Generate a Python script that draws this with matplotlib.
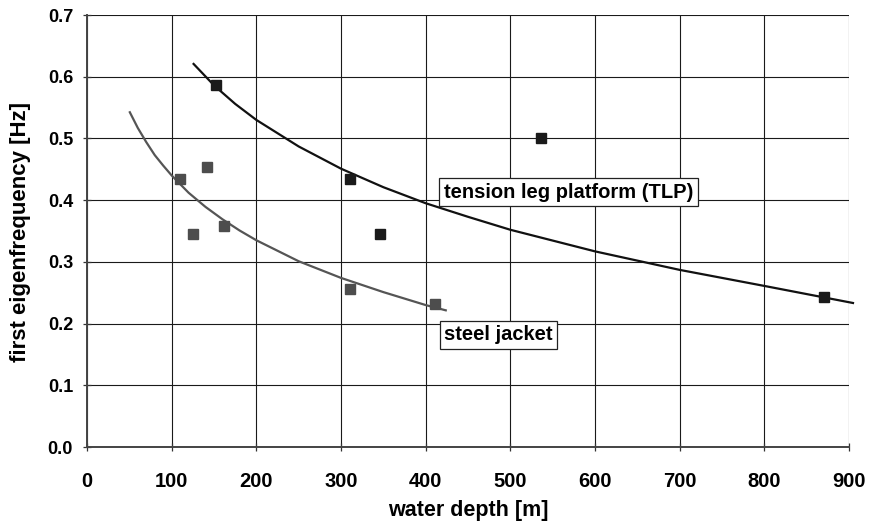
import matplotlib
matplotlib.use("Agg")
import matplotlib.pyplot as plt

plt.rcParams['font.family'] = ['Liberation Sans', 'DejaVu Sans']

# scatter data
jacket_depth = [110, 142, 125, 162, 311, 411]
jacket_freq = [0.434, 0.453, 0.345, 0.358, 0.256, 0.231]
tlp_depth = [152, 311, 346, 536, 870]
tlp_freq = [0.587, 0.434, 0.345, 0.500, 0.243]

# trend curves
jacket_curve_x = [50, 60, 70, 80, 90, 100, 120, 140, 160, 180, 200, 250, 300, 350, 400, 425]
jacket_curve_y = [0.544, 0.517, 0.494, 0.473, 0.456, 0.440, 0.412, 0.389, 0.369, 0.351,
                  0.335, 0.301, 0.274, 0.251, 0.230, 0.221]
tlp_curve_x = [125, 150, 175, 200, 250, 300, 350, 400, 450, 500, 600, 700, 800, 906]
tlp_curve_y = [0.622, 0.586, 0.556, 0.530, 0.487, 0.451, 0.421, 0.395, 0.373, 0.352,
               0.317, 0.287, 0.261, 0.233]

x_ticks = [0, 100, 200, 300, 400, 500, 600, 700, 800, 900]
y_ticks = [0.0, 0.1, 0.2, 0.3, 0.4, 0.5, 0.6, 0.7]

label_tlp = "tension leg platform (TLP)"
label_jacket = "steel jacket"

fig = plt.figure(figsize=(8.69, 5.24), dpi=100)
ax = fig.add_axes([87/869, 1 - 447/524, (849 - 87)/869, (447 - 15)/524])

ax.set_xlim(0, 900)
ax.set_ylim(0, 0.7)
ax.set_xticks(x_ticks)
ax.set_yticks(y_ticks)
ax.set_yticklabels([f"{v:.1f}" for v in y_ticks])

ax.grid(True, color='#1a1a1a', linewidth=0.8, zorder=0)
ax.set_axisbelow(True)
for s in ['top', 'right']:
    ax.spines[s].set_visible(False)
for s in ['left', 'bottom']:
    ax.spines[s].set_color('#444444')
    ax.spines[s].set_linewidth(1.4)

ax.tick_params(direction='inout', length=6, width=0.9, color='#333333')
ax.tick_params(axis='x', labelsize=14.5, pad=15)
ax.tick_params(axis='y', labelsize=13, pad=7)
for lbl in ax.get_xticklabels() + ax.get_yticklabels():
    lbl.set_fontweight('bold')

ax.plot(jacket_curve_x, jacket_curve_y, color='#555555', linewidth=1.6, zorder=3,
        solid_capstyle='butt')
ax.plot(tlp_curve_x, tlp_curve_y, color='#111111', linewidth=1.6, zorder=3,
        clip_on=False, solid_capstyle='butt')
ax.plot(jacket_depth, jacket_freq, linestyle='none', marker='s', markersize=6.5,
        color='#4d4d4d', zorder=4)
ax.plot(tlp_depth, tlp_freq, linestyle='none', marker='s', markersize=6.5,
        color='#1a1a1a', zorder=4)

box = dict(boxstyle='square,pad=0.22', facecolor='white', edgecolor='#222222', linewidth=0.9)
ax.text(421.5, 0.413, label_tlp, fontsize=14.5, fontweight='bold', ha='left', va='center',
        bbox=box, zorder=5)
ax.text(422, 0.182, label_jacket, fontsize=14.5, fontweight='bold', ha='left', va='center',
        bbox=box, zorder=5)

ax.set_xlabel("water depth [m]", fontsize=15.5, fontweight='bold')
ax.set_ylabel("first eigenfrequency [Hz]", fontsize=16, fontweight='bold')
ax.xaxis.set_label_coords(0.5, -(516 - 447) / 432)
ax.xaxis.label.set_va('baseline')
ax.yaxis.set_label_coords((21 - 87) / 762, (447 - 232) / 432)
ax.yaxis.label.set_va('center')

fig.savefig("out.png", dpi=100)
